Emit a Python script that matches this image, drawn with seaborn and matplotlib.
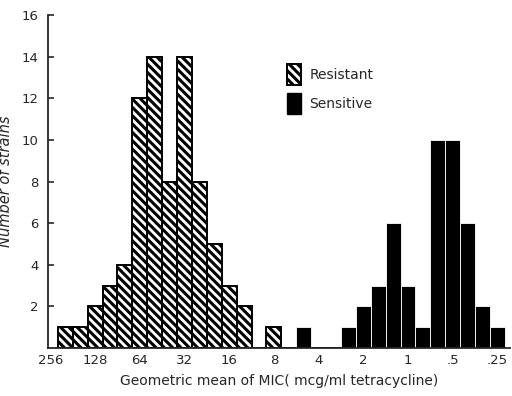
import numpy as np
import matplotlib
matplotlib.use("Agg")
import matplotlib.pyplot as plt
import seaborn as sns
from matplotlib.patches import Patch

# bin centres as log2(MIC), steps of 1/3 doubling
resistant_log2 = [23/3, 22/3, 21/3, 20/3, 19/3, 18/3, 17/3, 16/3, 15/3, 14/3, 13/3, 12/3, 11/3, 9/3]
resistant_counts = [1, 1, 2, 3, 4, 12, 14, 8, 14, 8, 5, 3, 2, 1]

sensitive_log2 = [7/3, 4/3, 3/3, 2/3, 1/3, 0, -1/3, -2/3, -3/3, -4/3, -5/3, -6/3]
sensitive_counts = [1, 1, 2, 3, 6, 3, 1, 10, 10, 6, 2, 1]

tick_mic = [256, 128, 64, 32, 16, 8, 4, 2, 1, 0.5, 0.25]
tick_labels = ["256", "128", "64", "32", "16", "8", "4", "2", "1", ".5", ".25"]

sns.set_style("ticks")
plt.rcParams["font.family"] = ["DejaVu Sans"]
plt.rcParams["hatch.linewidth"] = 2.2

fig = plt.figure(figsize=(5.12, 3.96), dpi=100)
ax = fig.add_axes([0.094, 0.121, 0.902, 0.841])

bw = 1/3
brange = (-6.5/3, 23.5/3)
hatch = "\\\\\\\\"

sns.histplot(x=resistant_log2, weights=resistant_counts, binwidth=bw, binrange=brange,
             color="white", edgecolor="black", linewidth=1.4, alpha=1, ax=ax)
n_res = len(ax.patches)
for p in ax.patches:
    p.set_hatch(hatch)

sns.histplot(x=sensitive_log2, weights=sensitive_counts, binwidth=bw, binrange=brange,
             color="black", edgecolor="white", linewidth=0.6, alpha=1, ax=ax)

ax.set_xlim(8.05, -2.28)
ax.set_ylim(0, 16)
ax.set_xticks(np.log2(tick_mic))
ax.set_xticklabels(tick_labels, fontsize=9.5)
ax.set_yticks([2, 4, 6, 8, 10, 12, 14, 16])
ax.tick_params(axis="y", direction="in", length=4, width=1.2, labelsize=9.5, pad=7)
ax.tick_params(axis="x", length=0, pad=4)
ax.set_xlabel("Geometric mean of MIC( mcg/ml tetracycline)", fontsize=10, labelpad=5)
ax.set_ylabel("Number of strains", fontsize=10.5, style="italic")
ax.yaxis.set_label_coords(-0.075, 0.5)

for s in ["top", "right"]:
    ax.spines[s].set_visible(False)
ax.spines["left"].set_linewidth(1.3)
ax.spines["bottom"].set_linewidth(1.3)

handles = [Patch(facecolor="white", edgecolor="black", hatch=hatch, linewidth=1.4),
           Patch(facecolor="black", edgecolor="black")]
ax.legend(handles, ["Resistant", "Sensitive"], loc="upper left",
          bbox_to_anchor=(0.49, 0.89), frameon=False, handlelength=1.0,
          handleheight=1.9, handletextpad=0.6, labelspacing=0.6, fontsize=10)

fig.savefig("out.png", dpi=100)
